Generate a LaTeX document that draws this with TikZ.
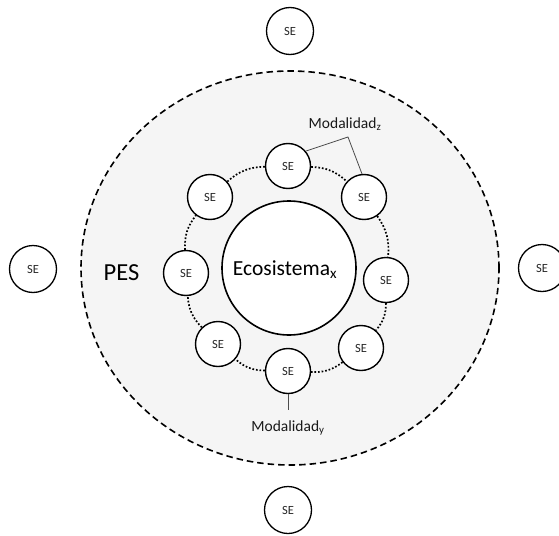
\documentclass[tikz,border=0pt]{standalone}
\usepackage{fontspec}
\setmainfont{Carlito}
\begin{document}
\begin{tikzpicture}[x=1pt,y=-1pt,
  se/.style={circle,draw=black,fill=white,line width=1.4pt,minimum size=45pt,inner sep=0pt,text=black!85,font=\fontsize{12.5}{13}\selectfont},
  outerse/.style={se,minimum size=47pt,line width=1.3pt},
  ring/.style={line width=1.7pt,dash pattern=on 1.7pt off 1.9pt,black},
  thinline/.style={line width=0.8pt,black!70},
  lbl/.style={inner sep=0pt,text=black!90,font=\fontsize{15.5}{16}\selectfont}]
\useasboundingbox (0,0) rectangle (559,535);
\fill[white] (0,0) rectangle (559,535);
% PES dashed region
\path[fill=black!4,draw=black,line width=1.6pt,dash pattern=on 6.5pt off 4pt]
  (290,268) ellipse [x radius=209pt, y radius=197pt];
\node[font=\fontsize{24.5}{26}\selectfont,inner sep=0pt] (pes) at (121.5,272.5) {PES};
% Ecosystem
\node[circle,draw=black,fill=white,line width=1.6pt,minimum size=134pt,inner sep=0pt] (eco) at (289,268) {};
\node[font=\fontsize{21.5}{23}\selectfont,inner sep=0pt] (ecot) at (285,270) {Ecosistema\textsubscript{x}};
% ring services
\node[se] (t)  at (288,166) {SE};
\node[se] (ur) at (364,197) {SE};
\node[se] (r)  at (386,280) {SE};
\node[se] (lr) at (361,348) {SE};
\node[se] (b)  at (288,371) {SE};
\node[se] (ll) at (218,344) {SE};
\node[se] (l)  at (186,273) {SE};
\node[se] (ul) at (210,197) {SE};
\foreach \a/\c in {t/ur,ur/r,r/lr,lr/b,b/ll,ll/l,l/ul,ul/t}
  \draw[ring] (\a) to[bend left=20] (\c);
% outer services
\node[outerse] (ot) at (290,31) {SE};
\node[outerse] (ol) at (33,269) {SE};
\node[outerse] (or) at (542,268) {SE};
\node[outerse] (ob) at (288,510) {SE};
% modalidad z
\node[lbl,anchor=base] (mz) at (345,128) {Modalidad\textsubscript{z}};
\coordinate (cz) at (348,137);
\draw[thinline] (t.40) -- (cz) -- (ur.95);
% modalidad y
\node[lbl,anchor=base] (my) at (288,431) {Modalidad\textsubscript{y}};
\coordinate (cy) at (288,410);
\draw[thinline] (b) -- (cy);
\end{tikzpicture}
\end{document}
